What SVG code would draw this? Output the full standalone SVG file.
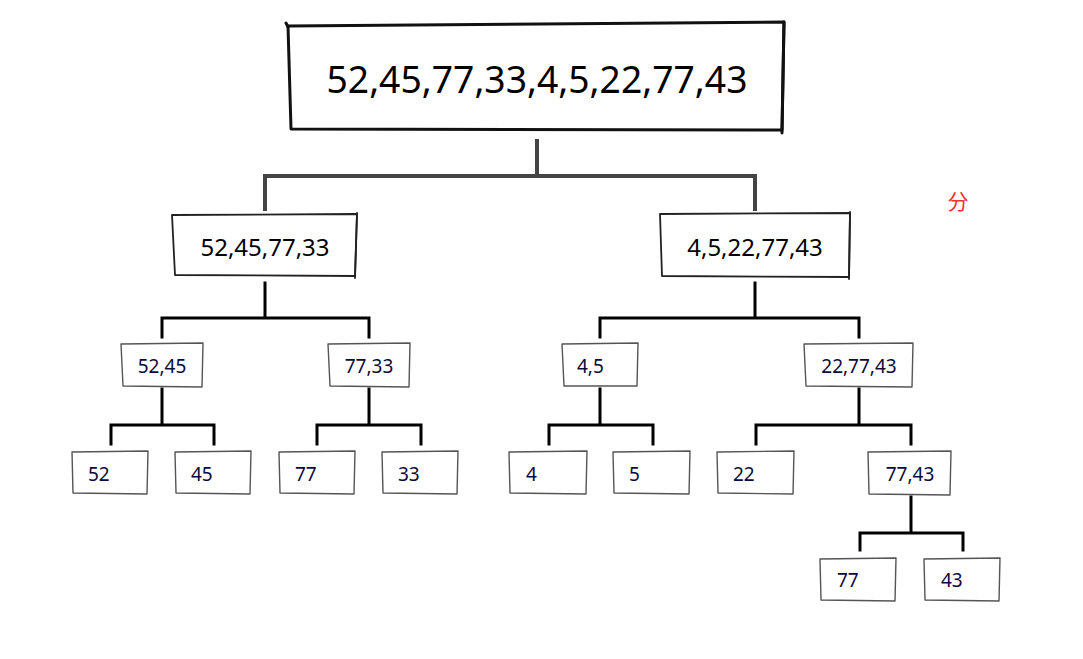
<svg xmlns="http://www.w3.org/2000/svg" width="1083" height="659" viewBox="0 0 1083 659">
<style>
.bg{fill:#fff}
.box0{fill:#fff;stroke:#111;stroke-width:3;stroke-linecap:round;stroke-linejoin:round}
.box1{fill:#fff;stroke:#222;stroke-width:1.8;stroke-linecap:round;stroke-linejoin:round}
.box2{fill:#fff;stroke:#555;stroke-width:1.4;stroke-linecap:round;stroke-linejoin:round}
.c0{fill:none;stroke:#444;stroke-width:4;stroke-linecap:square}
.c1{fill:none;stroke:#000;stroke-width:3;stroke-linecap:square}
.t0{font-family:"Noto Sans","Open Sans",sans-serif;fill:#000;text-anchor:middle}
.t2{font-family:"Noto Sans","Open Sans",sans-serif;font-size:19px;fill:#0a0a3c}
.red{font-family:"Noto Sans CJK SC",sans-serif;font-size:21px;fill:#ee3333;text-anchor:middle}
</style>
<rect class="bg" width="1083" height="659"/>
<g id="connectors">
<path class="c0" d="M537,141 V176 M265,176 H755 M265,176 V209 M755,176 V209"/>
<path class="c1" d="M265,283 V318 M162,318 H369 M162,318 V337 M369,318 V337"/>
<path class="c1" d="M755,283 V318 M600,318 H859 M600,318 V337 M859,318 V337"/>
<path class="c1" d="M162,389 V425 M111,425 H214 M111,425 V444 M214,425 V444"/>
<path class="c1" d="M369,389 V425 M317,425 H421 M317,425 V444 M421,425 V444"/>
<path class="c1" d="M600,389 V425 M549,425 H653 M549,425 V444 M653,425 V444"/>
<path class="c1" d="M859,389 V425 M756,425 H911 M756,425 V444 M911,425 V444"/>
<path class="c1" d="M911,497 V533 M860,533 H963 M860,533 V550 M963,533 V550"/>
</g>
<g id="root">
<path class="box0" d="M288,26 L784,22 L782,130 L291,129 Z"/>
<path class="box0" d="M784,22 L782,133 M286,23 L288,27"/>
<text class="t0" x="537" y="93" font-size="39" textLength="421" lengthAdjust="spacingAndGlyphs">52,45,77,33,4,5,22,77,43</text>
</g>
<g id="n-52-45-77-33">
<path class="box1" d="M172,215 L357,214 L355,276 L175,275 Z"/>
<path class="box1" d="M357,213 L355,278"/>
<text class="t0" x="265" y="256" font-size="24">52,45,77,33</text>
</g>
<g id="n-4-5-22-77-43">
<path class="box1" d="M660,214 L850,213 L849,277 L662,276 Z"/>
<path class="box1" d="M850,212 L849,279"/>
<text class="t0" x="755" y="256" font-size="24">4,5,22,77,43</text>
</g>
<g id="n-52-45">
<path class="box2" d="M121,344 L203,343 L202,387 L123,386 Z"/>
<text class="t2" x="162" y="373" text-anchor="middle">52,45</text>
</g>
<g id="n-77-33">
<path class="box2" d="M328,344 L410,343 L409,387 L330,386 Z"/>
<text class="t2" x="369" y="373" text-anchor="middle">77,33</text>
</g>
<g id="n-4-5">
<path class="box2" d="M562,344 L638,343 L637,386 L564,386 Z"/>
<text class="t2" x="577" y="373">4,5</text>
</g>
<g id="n-22-77-43">
<path class="box2" d="M804,344 L913,343 L912,387 L806,386 Z"/>
<text class="t2" x="859" y="373" text-anchor="middle">22,77,43</text>
</g>
<g id="n-52">
<path class="box2" d="M72,452 L148,451 L147,494 L73,493 Z"/>
<text class="t2" x="88" y="481">52</text>
</g>
<g id="n-45">
<path class="box2" d="M175,452 L251,451 L250,494 L176,493 Z"/>
<text class="t2" x="191" y="481">45</text>
</g>
<g id="n-77a">
<path class="box2" d="M279,452 L355,451 L354,494 L280,493 Z"/>
<text class="t2" x="295" y="481">77</text>
</g>
<g id="n-33">
<path class="box2" d="M382,452 L458,451 L457,494 L383,493 Z"/>
<text class="t2" x="398" y="481">33</text>
</g>
<g id="n-4">
<path class="box2" d="M509,452 L587,451 L586,494 L510,493 Z"/>
<text class="t2" x="526" y="481">4</text>
</g>
<g id="n-5">
<path class="box2" d="M613,452 L690,451 L689,494 L614,493 Z"/>
<text class="t2" x="629" y="481">5</text>
</g>
<g id="n-22">
<path class="box2" d="M717,452 L794,451 L793,494 L718,493 Z"/>
<text class="t2" x="733" y="481">22</text>
</g>
<g id="n-77-43">
<path class="box2" d="M868,452 L951,451 L950,495 L869,494 Z"/>
<text class="t2" x="910" y="481" text-anchor="middle">77,43</text>
</g>
<g id="n-77b">
<path class="box2" d="M820,559 L896,558 L895,601 L821,600 Z"/>
<text class="t2" x="837" y="587">77</text>
</g>
<g id="n-43">
<path class="box2" d="M924,559 L1000,558 L999,601 L925,600 Z"/>
<text class="t2" x="941" y="587">43</text>
</g>
<g id="label-fen">
<text class="red" x="958" y="209">分</text>
</g>
</svg>
